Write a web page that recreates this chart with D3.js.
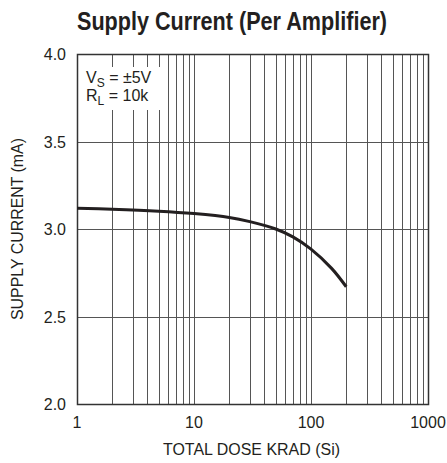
<!DOCTYPE html>
<html lang="en">
<head>
	<meta charset="UTF-8">
	<title>Supply Current (Per Amplifier)</title>
	<script type="text/javascript" src="https://cdn.jsdelivr.net/npm/d3@7"></script>
	<style>
		body { margin: 0; background: #fff; }
		text { font-family: "Liberation Sans Narrow", "Arial Narrow", "Liberation Sans", Arial, sans-serif; fill: #231f20; }
		.grid line { stroke: #555; stroke-width: 1px; }
		.curve { fill: none; stroke: #231f20; stroke-width: 3px; }
	</style>
</head>
<body>
<script type="text/javascript">
	var dose = [1, 2, 5, 10, 20, 30, 50, 70, 100, 150, 200];
	var current = [3.118, 3.113, 3.102, 3.088, 3.066, 3.042, 3.0, 2.955, 2.885, 2.775, 2.67];
	var xTicks = [1, 10, 100, 1000];
	var yTicks = [2.0, 2.5, 3.0, 3.5, 4.0];

	window.onload = function () {
		var margin = { top: 54, left: 77, bottom: 59, right: 19 };
		var width = 447 - margin.left - margin.right;
		var height = 463 - margin.top - margin.bottom;

		var root = d3.select('body')
					.append('svg')
						.attr('width', 447)
						.attr('height', 463);

		var svg = root.append('g')
			.attr('transform', 'translate(' + margin.left + ',' + margin.top + ')');

		var x = d3.scaleLog()
			.domain([1, 1000])
			.range([0, width]);

		var y = d3.scaleLinear()
			.domain([2, 4])
			.range([height, 0]);

		// minor log grid
		var xGrid = [];
		for (var dec = 1; dec < 1000; dec *= 10) {
			for (var k = 2; k <= 9; k++) xGrid.push(dec * k);
		}
		xGrid = xGrid.concat([10, 100]);

		var grid = svg.append('g').attr('class', 'grid');
		grid.selectAll('.vx')
			.data(xGrid)
			.enter().append('line')
			.attr('x1', function (d) { return Math.round(x(d)) + 0.5; })
			.attr('x2', function (d) { return Math.round(x(d)) + 0.5; })
			.attr('y1', 0)
			.attr('y2', height);

		grid.selectAll('.hy')
			.data(yTicks.slice(1, -1))
			.enter().append('line')
			.attr('x1', 0)
			.attr('x2', width)
			.attr('y1', function (d) { return Math.round(y(d)) + 0.5; })
			.attr('y2', function (d) { return Math.round(y(d)) + 0.5; });

		// legend box hides grid
		svg.append('rect')
			.attr('x', 1)
			.attr('y', 13)
			.attr('width', 88)
			.attr('height', 43)
			.attr('fill', '#fff');

		var leg = svg.append('text')
			.attr('x', 9)
			.attr('y', 29)
			.style('font-size', '16px');
		leg.append('tspan').text('V');
		leg.append('tspan').attr('dy', 4).style('font-size', '12px').text('S');
		leg.append('tspan').attr('dy', -4).text(' = \u00b15V');

		var leg2 = svg.append('text')
			.attr('x', 9)
			.attr('y', 47)
			.style('font-size', '16px');
		leg2.append('tspan').text('R');
		leg2.append('tspan').attr('dy', 4).style('font-size', '12px').text('L');
		leg2.append('tspan').attr('dy', -4).text(' = 10k');

		// frame
		svg.append('rect')
			.attr('x', 0.5)
			.attr('y', 0.5)
			.attr('width', width)
			.attr('height', height)
			.attr('fill', 'none')
			.attr('stroke', '#333')
			.attr('stroke-width', 1.5);

		var line = d3.line()
			.x(function (d, i) { return x(dose[i]); })
			.y(function (d) { return y(d); })
			.curve(d3.curveCatmullRom);

		svg.append('path')
			.datum(current)
			.attr('class', 'curve')
			.attr('d', line);

		// tick labels
		svg.selectAll('.yl')
			.data(yTicks)
			.enter().append('text')
			.attr('x', -11)
			.attr('y', function (d) { return y(d) + 6; })
			.attr('text-anchor', 'end')
			.style('font-size', '16px')
			.text(function (d) { return d.toFixed(1); });

		svg.selectAll('.xl')
			.data(xTicks)
			.enter().append('text')
			.attr('x', function (d) { return x(d); })
			.attr('y', height + 24)
			.attr('text-anchor', 'middle')
			.style('font-size', '16px')
			.text(function (d) { return d; });

		// titles
		root.append('text')
			.attr('x', 77)
			.attr('y', 30)
			.attr('textLength', 310)
			.attr('lengthAdjust', 'spacingAndGlyphs')
			.style('font-size', '25px')
			.style('font-weight', 'bold')
			.text('Supply Current (Per Amplifier)');

		root.append('text')
			.attr('x', 163)
			.attr('y', 455)
			.attr('textLength', 177)
			.attr('lengthAdjust', 'spacingAndGlyphs')
			.style('font-size', '16px')
			.text('TOTAL DOSE KRAD (Si)');

		root.append('text')
			.attr('transform', 'translate(23,320) rotate(-90)')
			.attr('textLength', 182)
			.attr('lengthAdjust', 'spacingAndGlyphs')
			.style('font-size', '16px')
			.text('SUPPLY CURRENT (mA)');
	};
</script>
</body>
</html>
